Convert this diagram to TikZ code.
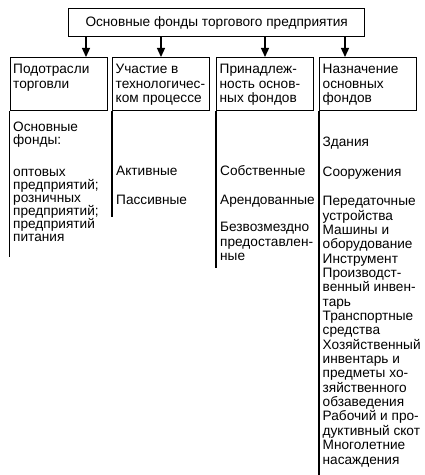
\documentclass[tikz,border=0pt]{standalone}
\usepackage{fontspec}
\setmainfont{Liberation Sans}
\usetikzlibrary{positioning, arrows.meta}
\tikzstyle{plan} = [x = 1bp, y = -1bp]
\tikzstyle{boxLine} = [draw, line width = 1.3bp]
\tikzstyle{topBoxStyle} = [boxLine, minimum width = 296bp, minimum height = 28bp, inner sep = 0pt, anchor = north west, font = \fontsize{13.7}{16}\selectfont]
\tikzstyle{headBoxStyle} = [boxLine, minimum width = 97bp, minimum height = 53bp, inner sep = 0pt, anchor = north west]
\tikzstyle{bodyTextStyle} = [anchor = base west, inner sep = 0pt, font = \fontsize{13.7}{16}\selectfont]
\tikzstyle{ruleLine} = [line width = 1.3bp]
\tikzstyle{arrowLine} = [line width = 1.3bp, -{Triangle[length = 9bp, width = 8bp]}]
\newcommand{\lineList}[5]{
  \foreach \txt [count = \i] in {#5} {
    \node [bodyTextStyle] (#1-\i) at (#2, {#3 + #4 * (\i - 1)}) {\txt};
  }
}
\newcommand{\headBox}[3]{
  \node [headBoxStyle] (#1) at (#2, 57) {};
  \lineList{#1Text}{#2 + 3.5}{73.8}{14.4}{#3}
}
\newcommand{\columnRule}[2]{
  \coordinate (#1End) at (#1.south west |- 0, #2);
  \draw [ruleLine] (#1.south west) -- (#1End);
}

\begin{document}
\begin{tikzpicture}[plan]
  \useasboundingbox (0,0) rectangle (424,475);
  \node [topBoxStyle] (top) at (68, 8) {Основные фонды торгового предприятия};

  \headBox{h1}{9.5}{Подотрасли, торговли}
  \headBox{h2}{112}{Участие в, технологичес-, ком процессе}
  \headBox{h3}{216}{Принадлеж-, ность основ-, ных фондов}
  \headBox{h4}{319}{Назначение, основных, фондов}

  \foreach \n/\xa in {h1/86, h2/161, h3/265, h4/345}
    \draw [arrowLine] (top.south -| \xa, 0) -- (\n.north -| \xa, 0);

  \columnRule{h1}{257}
  \columnRule{h2}{217}
  \columnRule{h3}{268}
  \columnRule{h4}{475}

  % first column
  \lineList{c1a}{13}{131.3}{13.4}{Основные, фонды:}
  \lineList{c1b}{13}{176.3}{13.1}{оптовых, предприятий;, розничных, предприятий;, предприятий, питания}
  % second column
  \lineList{c2}{116}{175.7}{29}{Активные, Пассивные}
  % third column
  \lineList{c3a}{220}{175.7}{29}{Собственные, Арендованные}
  \lineList{c3b}{220}{232}{14.35}{Безвозмездно, предоставлен-, ные}
  % fourth column
  \lineList{c4a}{322.5}{147}{29.7}{Здания, Сооружения}
  \lineList{c4b}{322.5}{205.7}{14.35}{Передаточные, устройства, Машины и, оборудование, Инструмент,
    Производст-, венный инвен-, тарь, Транспортные, средства, Хозяйственный, инвентарь и,
    предметы хо-, зяйственного, обзаведения, Рабочий и про-, дуктивный скот, Многолетние, насаждения}
\end{tikzpicture}
\end{document}
